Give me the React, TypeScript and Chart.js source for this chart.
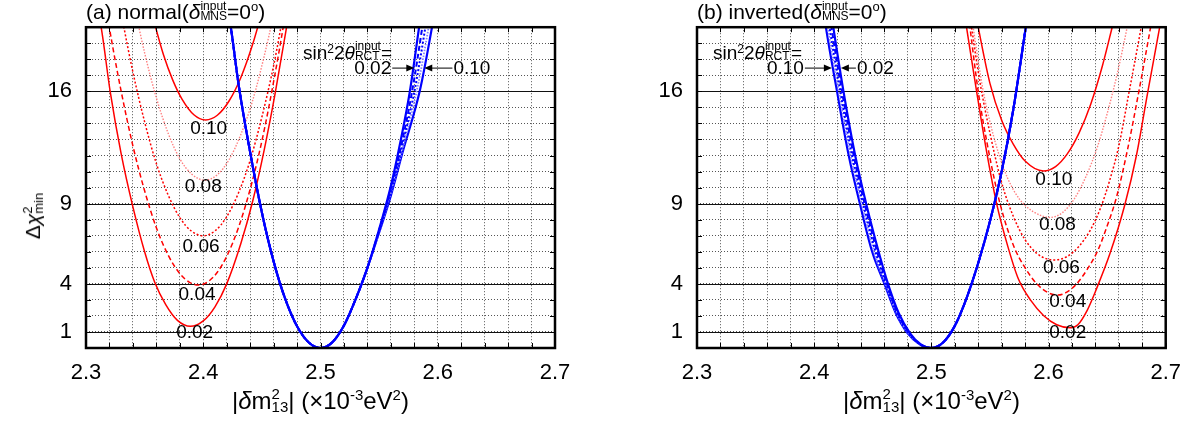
import React, { useEffect, useRef } from 'react';
import { Chart, registerables } from 'chart.js';

Chart.register(...registerables);

type P = [number, number];

// ---- axes ----
const xRange: P = [2.3, 2.7];
const yRange: P = [0, 20];
const xStep = 0.02;
const yStep = 1;
const xLabelTicks = [2.3, 2.4, 2.5, 2.6, 2.7];
const yLabelTicks = [1, 4, 9, 16];
const sinLabels = ['0.02', '0.04', '0.06', '0.08', '0.10'];

// ---- (a) normal: red curves (|dm^2|, dchi^2) ----
const nRed002: P[] = [[2.308,21.6],[2.3129,20.0],[2.3206,16.0],[2.330,12.1],[2.340,8.8],[2.350,6.0],[2.3586,4.1],[2.368,2.7],[2.378,1.72],[2.389,1.35],[2.400,1.69],[2.410,2.57],[2.420,4.0],[2.432,6.5],[2.442,9.1],[2.452,12.35],[2.4614,15.9],[2.4706,19.8],[2.476,22.3]];
const nRed004: P[] = [[2.316,21.7],[2.322,19.1],[2.330,16.0],[2.340,12.6],[2.350,9.8],[2.360,7.5],[2.370,5.8],[2.380,4.64],[2.388,4.11],[2.396,3.93],[2.404,4.13],[2.412,4.72],[2.420,5.71],[2.430,7.5],[2.440,9.9],[2.450,12.9],[2.460,16.6],[2.470,20.8],[2.474,22.7]];
const nRed006: P[] = [[2.326,22.5],[2.331,20.5],[2.340,17.2],[2.350,14.1],[2.360,11.5],[2.370,9.55],[2.380,8.13],[2.390,7.28],[2.400,7.0],[2.410,7.3],[2.420,8.18],[2.430,9.66],[2.440,11.7],[2.450,14.4],[2.460,17.6],[2.468,20.7],[2.472,22.3]];
const nRed008: P[] = [[2.336,23.4],[2.342,21.1],[2.350,18.4],[2.360,15.6],[2.370,13.4],[2.380,11.8],[2.390,10.85],[2.4014,10.46],[2.412,10.8],[2.422,11.74],[2.432,13.3],[2.442,15.4],[2.452,18.2],[2.460,20.8],[2.464,22.3]];
const nRed010: P[] = [[2.352,22.1],[2.359,20.1],[2.366,18.3],[2.374,16.7],[2.382,15.5],[2.392,14.54],[2.402,14.22],[2.412,14.51],[2.422,15.4],[2.432,16.85],[2.442,18.9],[2.450,20.95],[2.455,22.4]];

// ---- (a) normal: blue curves ----
const nBlue002: P[] = [[2.418,22.7],[2.4243,19.6],[2.430,16.5],[2.440,12.2],[2.450,8.45],[2.460,5.4],[2.470,3.04],[2.480,1.35],[2.490,0.34],[2.500,0],[2.510,0.35],[2.520,1.4],[2.530,3.05],[2.540,5.0],[2.550,7.4],[2.560,10.1],[2.568,12.8],[2.576,15.9],[2.5837,19.8],[2.589,22.6]];
const nBlue004: P[] = [[2.418,22.7],[2.4243,19.6],[2.430,16.5],[2.440,12.2],[2.450,8.45],[2.460,5.4],[2.470,3.04],[2.480,1.35],[2.490,0.34],[2.500,0],[2.510,0.35],[2.520,1.4],[2.530,3.05],[2.540,5.0],[2.550,7.35],[2.560,9.95],[2.570,13.0],[2.578,15.95],[2.5864,19.8],[2.591,22.2]];
const nBlue006: P[] = [[2.418,22.7],[2.4243,19.6],[2.430,16.5],[2.440,12.2],[2.450,8.45],[2.460,5.4],[2.470,3.04],[2.480,1.35],[2.490,0.34],[2.500,0],[2.510,0.35],[2.520,1.4],[2.530,3.05],[2.540,5.0],[2.550,7.3],[2.560,9.8],[2.570,12.7],[2.580,15.95],[2.589,19.8],[2.594,22.2]];
const nBlue008: P[] = [[2.418,22.7],[2.4243,19.6],[2.430,16.5],[2.440,12.2],[2.450,8.45],[2.460,5.4],[2.470,3.04],[2.480,1.35],[2.490,0.34],[2.500,0],[2.510,0.35],[2.520,1.4],[2.530,3.05],[2.540,5.0],[2.550,7.25],[2.560,9.65],[2.570,12.4],[2.582,16.0],[2.592,19.9],[2.597,22.1]];
const nBlue010: P[] = [[2.418,22.7],[2.4243,19.6],[2.430,16.5],[2.440,12.2],[2.450,8.45],[2.460,5.4],[2.470,3.04],[2.480,1.35],[2.490,0.34],[2.500,0],[2.510,0.35],[2.520,1.4],[2.530,3.05],[2.540,5.0],[2.550,7.2],[2.560,9.5],[2.570,12.2],[2.5846,16.0],[2.5946,19.8],[2.600,22.2]];

// ---- (b) inverted: red curves ----
const iRed002: P[] = [[2.525,22.3],[2.530,20.0],[2.5386,16.0],[2.547,12.3],[2.5557,9.0],[2.565,6.4],[2.5743,4.3],[2.585,2.95],[2.5957,2.03],[2.607,1.45],[2.6186,1.26],[2.625,1.45],[2.633,2.35],[2.641,3.7],[2.6525,5.9],[2.665,8.9],[2.675,12.0],[2.6843,15.8],[2.6951,20.1],[2.700,22.1]];
const iRed004: P[] = [[2.529,22.2],[2.5329,20.0],[2.540,16.0],[2.548,12.6],[2.5586,9.0],[2.570,6.4],[2.580,5.0],[2.590,4.0],[2.600,3.44],[2.608,3.3],[2.616,3.5],[2.624,4.0],[2.633,4.9],[2.642,6.07],[2.650,7.6],[2.658,9.4],[2.6675,12.4],[2.6771,16.0],[2.6871,20.0],[2.692,22.0]];
const iRed006: P[] = [[2.530,22.2],[2.5343,20.0],[2.5414,16.6],[2.550,13.4],[2.560,10.3],[2.570,8.2],[2.580,6.75],[2.590,5.9],[2.598,5.57],[2.6057,5.49],[2.616,5.71],[2.626,6.34],[2.636,7.39],[2.6445,8.75],[2.652,10.4],[2.660,12.6],[2.6686,15.9],[2.6791,20.0],[2.684,22.0]];
const iRed008: P[] = [[2.531,22.5],[2.5357,20.0],[2.5443,16.0],[2.551,13.8],[2.5571,12.2],[2.565,10.6],[2.575,9.3],[2.587,8.5],[2.6014,8.14],[2.612,8.45],[2.622,9.3],[2.632,10.7],[2.642,12.6],[2.650,14.6],[2.658,16.9],[2.6671,20.0],[2.672,21.9]];
const iRed010: P[] = [[2.534,22.3],[2.540,20.0],[2.550,16.5],[2.560,14.2],[2.570,12.7],[2.580,11.66],[2.5957,11.04],[2.606,11.31],[2.616,12.1],[2.626,13.4],[2.636,15.2],[2.646,17.6],[2.6543,20.0],[2.660,21.7]];

// ---- (b) inverted: blue curves ----
const iBlue002: P[] = [[2.411,22.6],[2.4163,20.0],[2.425,16.0],[2.435,12.0],[2.445,8.8],[2.455,6.0],[2.463,4.0],[2.472,2.2],[2.482,0.9],[2.491,0.22],[2.500,0],[2.510,0.34],[2.520,1.38],[2.530,3.1],[2.540,5.3],[2.550,7.9],[2.560,11.0],[2.570,14.9],[2.5806,20.0],[2.585,22.1]];
const iBlue004: P[] = [[2.4095,22.6],[2.4147,20.0],[2.4237,16.0],[2.4337,12.0],[2.4437,8.8],[2.4537,6.0],[2.4621,4.0],[2.4714,2.2],[2.4814,0.91],[2.4907,0.22],[2.500,0],[2.510,0.34],[2.520,1.38],[2.530,3.1],[2.540,5.3],[2.550,7.9],[2.560,11.0],[2.570,14.9],[2.5806,20.0],[2.585,22.1]];
const iBlue006: P[] = [[2.408,22.6],[2.4131,20.0],[2.4223,16.0],[2.4323,12.0],[2.4423,8.83],[2.4523,6.0],[2.4613,4.0],[2.4708,2.2],[2.4808,0.92],[2.4904,0.23],[2.500,0],[2.510,0.34],[2.520,1.38],[2.530,3.1],[2.540,5.3],[2.550,7.9],[2.560,11.0],[2.570,14.9],[2.5806,20.0],[2.585,22.1]];
const iBlue008: P[] = [[2.4065,22.6],[2.4115,20.0],[2.421,16.0],[2.431,12.0],[2.441,8.85],[2.451,6.0],[2.4606,4.0],[2.4701,2.2],[2.4801,0.94],[2.490,0.24],[2.500,0],[2.510,0.34],[2.520,1.38],[2.530,3.1],[2.540,5.3],[2.550,7.9],[2.560,11.0],[2.570,14.9],[2.5806,20.0],[2.585,22.1]];
const iBlue010: P[] = [[2.405,22.6],[2.410,20.0],[2.4195,16.0],[2.4295,12.0],[2.4395,8.85],[2.4495,6.0],[2.460,4.0],[2.4695,2.2],[2.4795,0.95],[2.4898,0.25],[2.500,0],[2.510,0.34],[2.520,1.38],[2.530,3.1],[2.540,5.3],[2.550,7.9],[2.560,11.0],[2.570,14.9],[2.5806,20.0],[2.585,22.1]];

// ---- curve label anchors (data units) ----
const nLabelPos: P[] = [[2.3927,0.94],[2.3947,3.34],[2.3981,6.34],[2.4000,10.06],[2.4046,13.66]];
const iLabelPos: P[] = [[2.6164,0.94],[2.6164,2.9],[2.6110,5.03],[2.6076,7.68],[2.6045,10.48]];

// ---- arrow annotations (data units) ----
const nArrows = [
  { text: '0.02', from: 2.5612, to: 2.5800, y: 17.45, side: 'left' },
  { text: '0.10', from: 2.6125, to: 2.5885, y: 17.45, side: 'right' },
];
const iArrows = [
  { text: '0.10', from: 2.3921, to: 2.4151, y: 17.45, side: 'left' },
  { text: '0.02', from: 2.4356, to: 2.4228, y: 17.45, side: 'right' },
];

// ---- styles ----
const FONT = '"Liberation Sans", Arial, Helvetica, sans-serif';
const redStyles = [
  { color: '#ff0000', dash: [] as number[], width: 1.5 },
  { color: '#ff0000', dash: [5, 3], width: 1.5 },
  { color: '#ff0000', dash: [2, 2], width: 1.5 },
  { color: '#ff8080', dash: [1.5, 1.5], width: 1.4 },
  { color: '#ff0000', dash: [] as number[], width: 1.5 },
];
const blueStyles = [
  { color: '#0000ff', dash: [] as number[], width: 2.2 },
  { color: '#0000ff', dash: [5, 3], width: 2 },
  { color: '#0000ff', dash: [2, 2], width: 2 },
  { color: '#8080ff', dash: [1.5, 1.5], width: 1.8 },
  { color: '#0000ff', dash: [] as number[], width: 2.2 },
];

const overlayPlugin = {
  id: 'overlay',
  beforeDatasetsDraw(chart: any) {
    const { ctx, chartArea: a, scales } = chart;
    const y = scales.y;
    ctx.save();
    ctx.strokeStyle = '#111';
    ctx.lineWidth = 1.2;
    for (const v of yLabelTicks) {
      const py = Math.round(y.getPixelForValue(v)) + 0.5;
      ctx.beginPath();
      ctx.moveTo(a.left, py);
      ctx.lineTo(a.right, py);
      ctx.stroke();
    }
    ctx.restore();
  },
  afterDatasetsDraw(chart: any, _args: any, opts: any) {
    const { ctx, chartArea: a, scales } = chart;
    const x = scales.x;
    const y = scales.y;
    ctx.save();
    ctx.strokeStyle = '#000';
    ctx.lineWidth = 1;
    const seg = (x1: number, y1: number, x2: number, y2: number) => {
      ctx.beginPath();
      ctx.moveTo(x1, y1);
      ctx.lineTo(x2, y2);
      ctx.stroke();
    };
    x.ticks.forEach((t: any) => {
      const px = Math.round(x.getPixelForValue(t.value)) + 0.5;
      seg(px, a.top, px, a.top + 5);
      seg(px, a.bottom, px, a.bottom - 5);
    });
    y.ticks.forEach((t: any) => {
      const py = Math.round(y.getPixelForValue(t.value)) + 0.5;
      seg(a.left, py, a.left + 5, py);
      seg(a.right, py, a.right - 5, py);
    });
    ctx.lineWidth = 2.5;
    ctx.strokeRect(a.left, a.top, a.right - a.left, a.bottom - a.top);

    ctx.fillStyle = '#000';
    ctx.font = `19px ${FONT}`;
    ctx.textBaseline = 'middle';
    ctx.textAlign = 'center';
    (opts.labels || []).forEach((l: any) => {
      ctx.fillText(l.text, x.getPixelForValue(l.x), y.getPixelForValue(l.y));
    });
    ctx.lineWidth = 1;
    (opts.arrows || []).forEach((ar: any) => {
      const x1 = x.getPixelForValue(ar.from);
      const x2 = x.getPixelForValue(ar.to);
      const py = y.getPixelForValue(ar.y);
      const dir = Math.sign(x2 - x1);
      seg(x1, py, x2 - dir * 6, py);
      ctx.beginPath();
      ctx.moveTo(x2, py);
      ctx.lineTo(x2 - dir * 8, py - 3.5);
      ctx.lineTo(x2 - dir * 8, py + 3.5);
      ctx.closePath();
      ctx.fill();
      ctx.textAlign = ar.side === 'left' ? 'right' : 'left';
      ctx.fillText(ar.text, x1 - dir * 1, py + 1);
    });
    ctx.restore();
  },
};

function makeConfig(red: P[][], blue: P[][], labelPos: P[], arrows: any[], yWidth: number, rightPad: number) {
  const datasets: any[] = [];
  blue.forEach((c, i) =>
    datasets.push({
      label: 'fit ' + sinLabels[i],
      data: c.map(([x, y]) => ({ x, y })),
      borderColor: blueStyles[i].color,
      borderDash: blueStyles[i].dash,
      borderWidth: blueStyles[i].width,
      pointRadius: 0,
      fill: false,
      cubicInterpolationMode: 'monotone',
    })
  );
  red.forEach((c, i) =>
    datasets.push({
      label: 'wrong ' + sinLabels[i],
      data: c.map(([x, y]) => ({ x, y })),
      borderColor: redStyles[i].color,
      borderDash: redStyles[i].dash,
      borderWidth: redStyles[i].width,
      pointRadius: 0,
      fill: false,
      cubicInterpolationMode: 'monotone',
    })
  );
  return {
    type: 'line' as const,
    data: { datasets },
    plugins: [overlayPlugin],
    options: {
      animation: false as const,
      responsive: false,
      events: [],
      layout: { padding: { left: 0, right: rightPad, top: 26, bottom: 0 } },
      plugins: {
        legend: { display: false },
        tooltip: { enabled: false },
        overlay: {
          labels: labelPos.map(([x, y], i) => ({ x, y, text: sinLabels[i] })),
          arrows,
        },
      },
      scales: {
        x: {
          type: 'linear' as const,
          min: xRange[0],
          max: xRange[1],
          afterFit: (s: any) => { s.height = 79; },
          ticks: {
            stepSize: xStep,
            autoSkip: false,
            maxRotation: 0,
            padding: 12,
            color: '#000',
            font: { family: FONT, size: 22 },
            callback: (v: any) => {
              const m = xLabelTicks.find((t) => Math.abs(t - Number(v)) < 1e-6);
              return m !== undefined ? m.toFixed(1) : '';
            },
          },
          grid: { color: '#555', lineWidth: 1, drawTicks: false },
          border: { display: false, dash: [1, 2] },
        },
        y: {
          type: 'linear' as const,
          min: yRange[0],
          max: yRange[1],
          afterFit: (s: any) => { s.width = yWidth; },
          ticks: {
            stepSize: yStep,
            autoSkip: false,
            padding: 14,
            color: '#000',
            font: { family: FONT, size: 22 },
            callback: (v: any) => (yLabelTicks.includes(Number(v)) ? String(v) : ''),
          },
          grid: { color: '#555', lineWidth: 1, drawTicks: false },
          border: { display: false, dash: [1, 2] },
        },
      },
    },
  };
}

function Stack({ sup, sub, size, shift = 1 }: { sup: string; sub: string; size: number; shift?: number }) {
  return (
    <span
      style={{
        display: 'inline-block',
        fontSize: size,
        lineHeight: `${size * 0.85}px`,
        verticalAlign: -shift,
        textAlign: 'left',
        fontStyle: 'normal',
      }}
    >
      <span style={{ display: 'block' }}>{sup}</span>
      <span style={{ display: 'block' }}>{sub}</span>
    </span>
  );
}

const sup = (t: string, size: number, raise: number) => (
  <span style={{ fontSize: size, verticalAlign: raise, lineHeight: 1 }}>{t}</span>
);

function Title({ left, text }: { left: number; text: string }) {
  return (
    <div style={{ position: 'absolute', left, top: 0, fontSize: 21, lineHeight: '21px', whiteSpace: 'nowrap' }}>
      {text}(<i>δ</i>
      <Stack sup="input" sub="MNS" size={12} />=0{sup('o', 13, 8)})
    </div>
  );
}

function XTitle({ center }: { center: number }) {
  return (
    <div
      style={{
        position: 'absolute',
        left: center,
        top: 387,
        transform: 'translateX(-50%)',
        fontSize: 24,
        lineHeight: '24px',
        whiteSpace: 'nowrap',
      }}
    >
      |<i>δ</i>m<Stack sup="2" sub="13" size={15} shift={3} />| (×10{sup('-3', 15, 9)}eV{sup('2', 15, 9)})
    </div>
  );
}

function SinNote({ left }: { left: number }) {
  return (
    <div style={{ position: 'absolute', left, top: 41, fontSize: 19, lineHeight: '19px', whiteSpace: 'nowrap' }}>
      sin{sup('2', 12, 6)}2<i>θ</i>
      <Stack sup="input" sub="RCT" size={12} />=
    </div>
  );
}

export default function App() {
  const refA = useRef<HTMLCanvasElement>(null);
  const refB = useRef<HTMLCanvasElement>(null);

  useEffect(() => {
    const a = new Chart(
      refA.current as HTMLCanvasElement,
      makeConfig([nRed002, nRed004, nRed006, nRed008, nRed010], [nBlue002, nBlue004, nBlue006, nBlue008, nBlue010], nLabelPos, nArrows, 86, 41) as any
    );
    const b = new Chart(
      refB.current as HTMLCanvasElement,
      makeConfig([iRed002, iRed004, iRed006, iRed008, iRed010], [iBlue002, iBlue004, iBlue006, iBlue008, iBlue010], iLabelPos, iArrows, 101, 27) as any
    );
    return () => {
      a.destroy();
      b.destroy();
    };
  }, []);

  return (
    <div
      style={{
        position: 'absolute',
        left: 0,
        top: 0,
        width: 1193,
        height: 427,
        background: '#fff',
        overflow: 'hidden',
        fontFamily: FONT,
        color: '#000',
      }}
    >
      <canvas ref={refA} width={596} height={427} style={{ position: 'absolute', left: 0, top: 0 }} />
      <canvas ref={refB} width={597} height={427} style={{ position: 'absolute', left: 596, top: 0 }} />
      <Title left={86} text="(a) normal" />
      <Title left={697} text="(b) inverted" />
      <SinNote left={303} />
      <SinNote left={713} />
      <XTitle center={320.5} />
      <XTitle center={931.5} />
      <div
        style={{
          position: 'absolute',
          left: 33,
          top: 216,
          transform: 'translate(-50%, -50%) rotate(-90deg)',
          fontSize: 21,
          lineHeight: '21px',
          whiteSpace: 'nowrap',
        }}
      >
        Δ<i>χ</i>
        <Stack sup="2" sub="min" size={13} shift={3} />
      </div>
    </div>
  );
}
